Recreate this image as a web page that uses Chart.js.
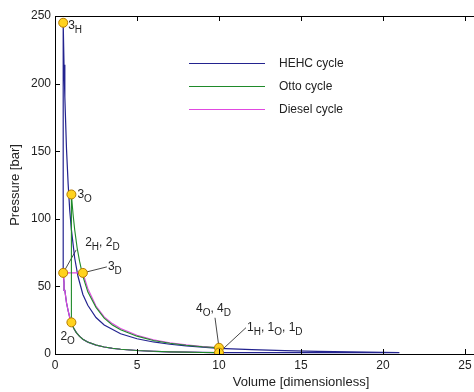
<!DOCTYPE html>
<html>
<head>
<meta charset="utf-8">
<script src="https://cdn.jsdelivr.net/npm/chart.js@4.4.1/dist/chart.umd.min.js"></script>
<style>
  html, body { margin: 0; padding: 0; background: #fff; overflow: hidden; width: 474px; height: 392px; }
  canvas { display: block; }
</style>
</head>
<body>
<canvas id="grafico" width="580" height="392"></canvas>
<script>
// ciclo HEHC: compresion, combustion a volumen constante, expansion, vuelta a presion constante
const hehcV = [10, 9, 8, 7, 6, 5, 4, 3.5, 3, 2.5, 2, 1.7, 1.5, 1.3, 1.15, 1, 0.9, 0.8, 0.7, 0.6, 0.55, 0.5,
               0.5, 0.55, 0.6, 0.7, 0.8, 0.9, 1, 1.2, 1.4, 1.7, 2, 2.5, 3, 4, 5, 6, 7, 8, 10, 12, 14, 16, 18, 20, 21, 10];
const hehcP = [1, 1.15, 1.35, 1.6, 2, 2.6, 3.5, 4.2, 5.2, 6.6, 8.8, 10.9, 13, 15.8, 18.8, 23.4, 27, 32, 38, 47, 53, 60,
               245, 214, 190, 152, 126, 106, 92, 71, 57.5, 44, 36, 27, 21.5, 15, 11.3, 8.9, 7.2, 6, 4.2, 3.2, 2.5, 2, 1.6, 1.25, 1, 1];

// ciclo Otto
const ottoV = [10, 9, 8, 7, 6, 5, 4, 3.5, 3, 2.5, 2, 1.7, 1.5, 1.3, 1.15, 1,
               1, 1.1, 1.2, 1.35, 1.5, 1.7, 2, 2.5, 3, 3.5, 4, 5, 6, 7, 8, 9, 10, 10];
const ottoP = [1, 1.15, 1.35, 1.6, 2, 2.6, 3.5, 4.2, 5.2, 6.6, 8.8, 10.9, 13, 15.8, 18.8, 23.4,
               118, 103.5, 92, 78.5, 68.5, 57.5, 46, 34.5, 26.5, 21.5, 18, 13.2, 10, 8, 6.5, 5.4, 4.6, 1];

// ciclo Diesel
const dieselV = [10, 9, 8, 7, 6, 5, 4, 3.5, 3, 2.5, 2, 1.7, 1.5, 1.3, 1.15, 1, 0.9, 0.8, 0.7, 0.6, 0.55, 0.5,
                 1.7, 2, 2.5, 3, 3.5, 4, 5, 6, 7, 8, 9, 10, 10];
const dieselP = [1, 1.15, 1.35, 1.6, 2, 2.6, 3.5, 4.2, 5.2, 6.6, 8.8, 10.9, 13, 15.8, 18.8, 23.4, 27, 32, 38, 47, 53, 60,
                 60, 48.5, 35.5, 27.5, 22.5, 18.8, 13.9, 10.5, 8.3, 6.8, 5.6, 4.6, 1];

// puntos marcados
const marcasV = [0.5, 1, 0.5, 1.7, 1, 10, 10];
const marcasP = [245, 118, 60, 60, 23.4, 4.6, 1];
const marcasTexto = ['3_H', '3_O', '2_H, 2_D', '3_D', '2_O', '4_O, 4_D', '1_H, 1_O, 1_D'];

const ticksX = [0, 5, 10, 15, 20, 25, 30];
const ticksY = [0, 50, 100, 150, 200, 250];

// posicion de cada etiqueta respecto a su punto: [dx, dy de la linea base, linea guia desde (lx, ly)]
const colocacion = [
    [5, 6, null],
    [6, 4, null],
    [22, -27, [13, -23]],
    [25, -3, [24, -6]],
    [-11, 18, null],
    [-23, -36, [-4, -30]],
    [28, -22, [27, -25]]
];

const fuente = '"Liberation Sans", Arial, sans-serif';

function unir(vs, ps) {
    return vs.map((v, i) => ({ x: v, y: ps[i] }));
}

function textoSub(ctx, str, x, y) {
    let cx = x;
    for (let i = 0; i < str.length; i++) {
        if (str[i] === '_') {
            ctx.font = '10px ' + fuente;
            ctx.fillText(str[i + 1], cx, y + 4);
            cx += ctx.measureText(str[i + 1]).width;
            i++;
        } else {
            ctx.font = '12px ' + fuente;
            ctx.fillText(str[i], cx, y);
            cx += ctx.measureText(str[i]).width;
        }
    }
}

const marco = {
    id: 'marco',
    beforeDatasetsDraw(chart) {
        const ctx = chart.ctx;
        const sx = chart.scales.x, sy = chart.scales.y;
        ctx.save();
        ctx.strokeStyle = '#333';
        ctx.lineWidth = 0.9;
        marcasV.forEach((v, i) => {
            const g = colocacion[i][2];
            if (!g) return;
            const px = sx.getPixelForValue(v), py = sy.getPixelForValue(marcasP[i]);
            ctx.beginPath();
            ctx.moveTo(px + g[0], py + g[1]);
            ctx.lineTo(px, py);
            ctx.stroke();
        });
        ctx.restore();
    },
    afterDraw(chart) {
        const ctx = chart.ctx;
        const a = chart.chartArea;
        const sx = chart.scales.x, sy = chart.scales.y;
        ctx.save();
        ctx.strokeStyle = '#000';
        ctx.lineWidth = 1;
        ctx.strokeRect(a.left + 0.5, a.top + 0.5, a.right - a.left, a.bottom - a.top);
        ctx.beginPath();
        ticksX.forEach(t => {
            const px = Math.round(sx.getPixelForValue(t)) + 0.5;
            ctx.moveTo(px, a.bottom); ctx.lineTo(px, a.bottom - 5);
            ctx.moveTo(px, a.top); ctx.lineTo(px, a.top + 5);
        });
        ticksY.forEach(t => {
            const py = Math.round(sy.getPixelForValue(t)) + 0.5;
            ctx.moveTo(a.left, py); ctx.lineTo(a.left + 5, py);
            ctx.moveTo(a.right, py); ctx.lineTo(a.right - 5, py);
        });
        ctx.stroke();

        // leyenda
        const filas = [63, 86, 109];
        chart.data.datasets.slice(0, 3).forEach((d, i) => {
            ctx.strokeStyle = d.borderColor;
            ctx.lineWidth = 1;
            ctx.beginPath();
            ctx.moveTo(189, filas[i] + 0.5);
            ctx.lineTo(265, filas[i] + 0.5);
            ctx.stroke();
            ctx.fillStyle = '#222';
            ctx.font = '12px ' + fuente;
            ctx.textBaseline = 'middle';
            ctx.textAlign = 'left';
            ctx.fillText(d.label, 279, filas[i] + 0.5);
        });

        // titulos de ejes
        ctx.fillStyle = '#222';
        ctx.font = '13px ' + fuente;
        ctx.textAlign = 'center';
        ctx.textBaseline = 'middle';
        ctx.fillText('Volume [dimensionless]', (a.left + a.right) / 2, 382);
        ctx.save();
        ctx.translate(15, (a.top + a.bottom) / 2);
        ctx.rotate(-Math.PI / 2);
        ctx.fillText('Pressure [bar]', 0, 0);
        ctx.restore();

        // etiquetas de los puntos
        ctx.textAlign = 'left';
        ctx.textBaseline = 'alphabetic';
        ctx.fillStyle = '#222';
        marcasV.forEach((v, i) => {
            const px = sx.getPixelForValue(v), py = sy.getPixelForValue(marcasP[i]);
            textoSub(ctx, marcasTexto[i], px + colocacion[i][0], py + colocacion[i][1]);
        });
        ctx.restore();
    }
};

const ctx = document.getElementById('grafico').getContext('2d');

new Chart(ctx, {
    type: 'scatter',
    data: {
        datasets: [
            {
                label: 'HEHC cycle',
                data: unir(hehcV, hehcP),
                showLine: true,
                borderColor: '#23238f',
                borderWidth: 1.2,
                pointRadius: 0,
                order: 3
            },
            {
                label: 'Otto cycle',
                data: unir(ottoV, ottoP),
                showLine: true,
                borderColor: '#1f8a2a',
                borderWidth: 1.1,
                pointRadius: 0,
                order: 1
            },
            {
                label: 'Diesel cycle',
                data: unir(dieselV, dieselP),
                showLine: true,
                borderColor: '#e049e0',
                borderWidth: 1.1,
                pointRadius: 0,
                order: 2
            },
            {
                label: 'puntos',
                data: unir(marcasV, marcasP),
                showLine: false,
                pointRadius: 4.5,
                pointBackgroundColor: '#ffd21f',
                pointBorderColor: '#b47a00',
                pointBorderWidth: 1,
                order: 0
            }
        ]
    },
    options: {
        responsive: false,
        devicePixelRatio: 1,
        animation: false,
        layout: { padding: { top: 16, right: 33, left: 0, bottom: 0 } },
        plugins: {
            legend: { display: false },
            tooltip: { enabled: false }
        },
        scales: {
            x: {
                type: 'linear',
                min: 0,
                max: 30,
                afterFit: s => { s.height = 38; },
                afterBuildTicks: s => { s.ticks = ticksX.map(v => ({ value: v })); },
                grid: { display: false, drawTicks: false },
                border: { display: false },
                ticks: { padding: 4, color: '#222', font: { family: fuente, size: 12 } }
            },
            y: {
                min: 0,
                max: 250,
                afterFit: s => { s.width = 55; },
                afterBuildTicks: s => { s.ticks = ticksY.map(v => ({ value: v })); },
                grid: { display: false, drawTicks: false },
                border: { display: false },
                ticks: { padding: 4, color: '#222', font: { family: fuente, size: 12 } }
            }
        }
    },
    plugins: [marco]
});
</script>
</body>
</html>
